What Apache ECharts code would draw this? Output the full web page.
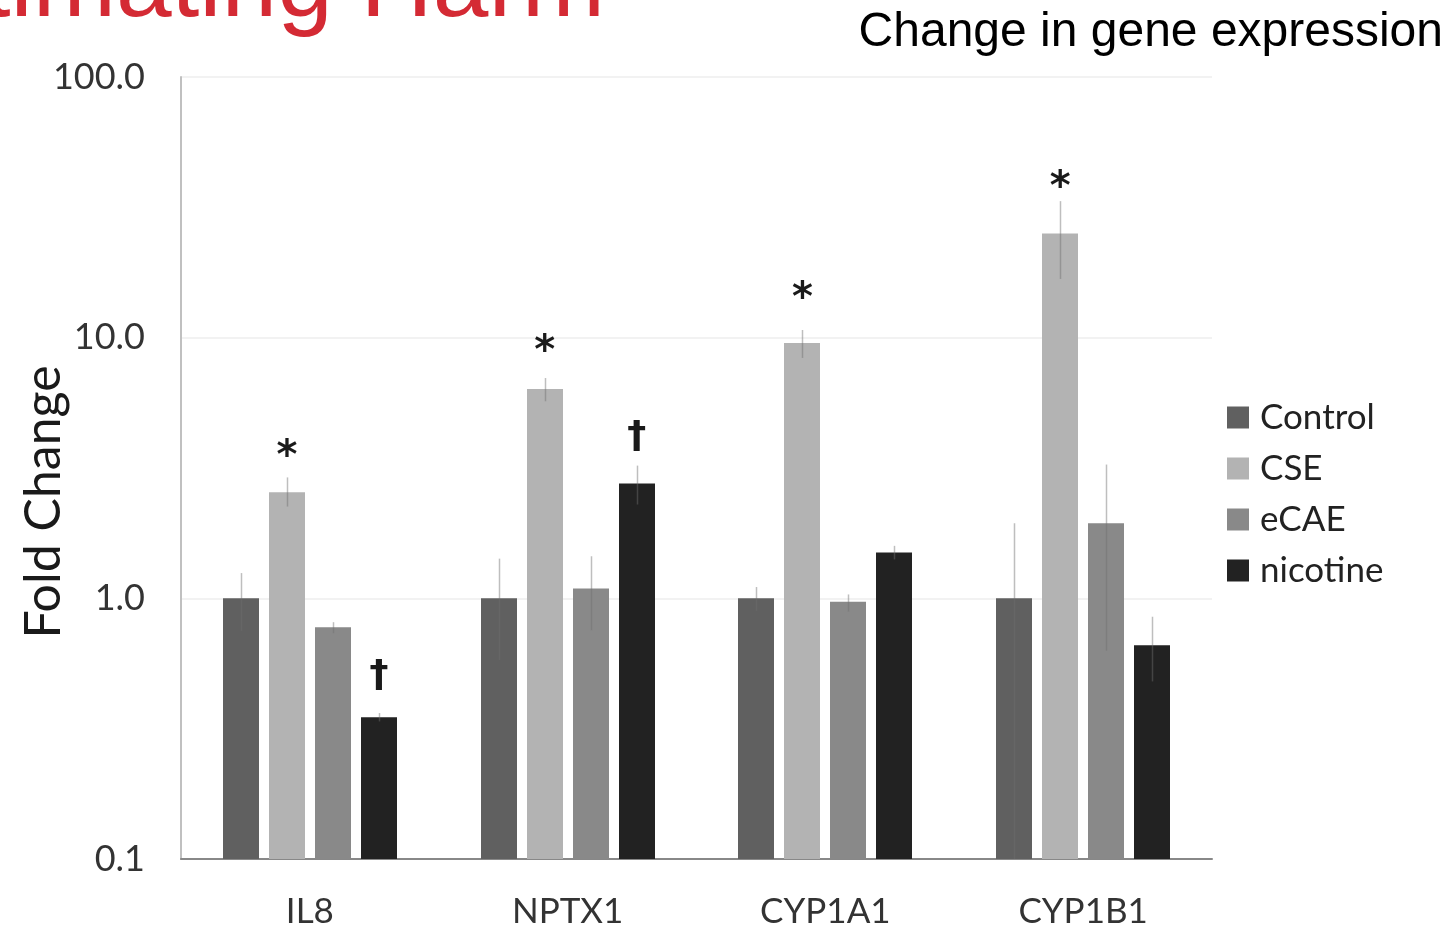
<!DOCTYPE html>
<html>
<head>
<meta charset="utf-8">
<script src="https://cdn.jsdelivr.net/npm/echarts@6/dist/echarts.min.js"></script>
<style>
html,body{margin:0;padding:0;background:#fff;}
#main{width:1455px;height:929px;}
</style>
</head>
<body>
<div id="main"></div>
<script>
// ---- data ----
const categories = ['IL8', 'NPTX1', 'CYP1A1', 'CYP1B1'];
const seriesNames = ['Control', 'CSE', 'eCAE', 'nicotine'];
const yTicks = [0.1, 1, 10, 100];

const controlValues  = [1.0, 1.0, 1.0, 1.0];
const cseValues      = [2.55, 6.36, 9.55, 25.1];
const ecaeValues     = [0.775, 1.09, 0.97, 1.94];
const nicotineValues = [0.35, 2.76, 1.50, 0.66];

const controlHigh  = [1.25, 1.42, 1.105, 1.94];
const controlLow   = [0.75, 0.58, 0.895, 0.1];
const cseHigh      = [2.91, 7.0, 10.7, 33.4];
const cseLow       = [2.25, 5.7, 8.36, 16.8];
const ecaeHigh     = [0.81, 1.45, 1.035, 3.26];
const ecaeLow      = [0.735, 0.755, 0.89, 0.63];
const nicotineHigh = [0.363, 3.23, 1.59, 0.85];
const nicotineLow  = [0.337, 2.29, 1.41, 0.48];

// significance marks: symbol and the fold-change level where it sits
const cseMarks      = ['*', '*', '*', '*'];
const cseMarkLevel  = [3.75, 9.46, 15.1, 40.5];
const nicMarks      = ['\u2020', '\u2020', '', ''];
const nicMarkLevel  = [0.503, 4.17, null, null];

// ---- style ----
const colors = ['#606060', '#b3b3b3', '#898989', '#222222'];
const BAR_W = 36, BAR_GAP_PX = 10;
const FONT = 'Lato, "Open Sans", sans-serif';

const values = [controlValues, cseValues, ecaeValues, nicotineValues];
const highs = [controlHigh, cseHigh, ecaeHigh, nicotineHigh];
const lows = [controlLow, cseLow, ecaeLow, nicotineLow];

function offsetFor(si) { return (si - 1.5) * (BAR_W + BAR_GAP_PX); }

const series = [];
// bars drawn from the axis floor (log axis)
seriesNames.forEach((name, si) => {
  series.push({
    name: name,
    type: 'custom',
    data: categories.map((c, i) => [i, values[si][i]]),
    encode: { x: 0, y: 1 },
    itemStyle: { color: colors[si] },
    z: 2,
    renderItem: function (params, api) {
      const i = api.value(0);
      const top = api.coord([i, api.value(1)]);
      const base = api.coord([i, yTicks[0]]);
      const x = Math.round(top[0] + offsetFor(si) - BAR_W / 2);
      return {
        type: 'rect',
        shape: { x: x, y: top[1], width: BAR_W, height: base[1] - top[1] },
        style: { fill: colors[si] }
      };
    }
  });
});
seriesNames.forEach((name, si) => {
  series.push({
    name: 'err-' + name,
    type: 'custom',
    data: categories.map((c, i) => [i, highs[si][i], lows[si][i]]),
    encode: { x: 0, y: [1, 2] },
    z: 5,
    silent: true,
    renderItem: function (params, api) {
      const i = api.value(0);
      const p1 = api.coord([i, api.value(1)]);
      const p2 = api.coord([i, api.value(2)]);
      const x = Math.round(p1[0] + offsetFor(si)) + 0.5;
      return {
        type: 'line',
        shape: { x1: x, y1: p1[1], x2: x, y2: p2[1] },
        style: { stroke: 'rgba(110,110,110,0.45)', lineWidth: 1.5 }
      };
    }
  });
});
function markSeries(marks, levels, si) {
  return {
    name: 'mark-' + si,
    type: 'custom',
    data: categories.map((c, i) => [i, levels[i]]).filter(d => d[1] != null && marks[d[0]]),
    encode: { x: 0, y: 1 },
    z: 6,
    silent: true,
    renderItem: function (params, api) {
      const p = api.coord([api.value(0), api.value(1)]);
      const ch = marks[api.value(0)];
      const isStar = ch === '*';
      return {
        type: 'text',
        x: p[0] + offsetFor(si),
        y: p[1] + (isStar ? 9 : 0),
        style: {
          text: ch,
          font: isStar ? 'bold 40px "DejaVu Sans", sans-serif' : 'bold 38px "DejaVu Sans", sans-serif',
          fill: '#1a1a1a',
          align: 'center',
          verticalAlign: 'middle'
        }
      };
    }
  };
}
series.push(markSeries(cseMarks, cseMarkLevel, 1));
series.push(markSeries(nicMarks, nicMarkLevel, 3));

const chart = echarts.init(document.getElementById('main'));
chart.setOption({
  animation: false,
  backgroundColor: '#ffffff',
  grid: { left: 181, right: 243, top: 77, bottom: 68, containLabel: false },
  legend: {
    data: seriesNames,
    orient: 'vertical',
    left: 1227,
    top: 400,
    padding: 0,
    itemWidth: 22,
    itemHeight: 22,
    itemGap: 16,
    icon: 'rect',
    textStyle: { fontFamily: FONT, fontSize: 35, color: '#222', lineHeight: 35, padding: [0, 0, 0, 6] }
  },
  xAxis: {
    type: 'category',
    data: categories,
    axisLine: { show: true, lineStyle: { color: '#888', width: 2 } },
    axisTick: { show: false },
    axisLabel: { fontFamily: FONT, fontSize: 35, color: '#333', margin: 35 }
  },
  yAxis: {
    type: 'log',
    logBase: 10,
    min: yTicks[0],
    max: yTicks[yTicks.length - 1],
    axisLine: { show: true, lineStyle: { color: '#c0c0c0', width: 2 } },
    axisTick: { show: false },
    splitLine: { show: true, lineStyle: { color: '#f2f2f2', width: 2 } },
    axisLabel: {
      fontFamily: FONT, fontSize: 36, color: '#333', margin: 36,
      formatter: v => Number(v).toFixed(1)
    }
  },
  graphic: [
    {
      type: 'text', x: 605, y: -12,
      style: { text: 'Estimating Harm', font: '100px "Liberation Sans", Arial, sans-serif', fill: '#d42a34', align: 'right', verticalAlign: 'middle' }
    },
    {
      type: 'text', x: 1443, y: 33,
      style: { text: 'Change in gene expression', font: '48px "Liberation Sans", Arial, sans-serif', fill: '#000', align: 'right', verticalAlign: 'middle' }
    },
    {
      type: 'text', x: 44, y: 502, rotation: Math.PI / 2,
      style: { text: 'Fold Change', font: '50px ' + FONT, fill: '#1a1a1a', align: 'center', verticalAlign: 'middle' }
    }
  ],
  series: series
});
</script>
</body>
</html>
